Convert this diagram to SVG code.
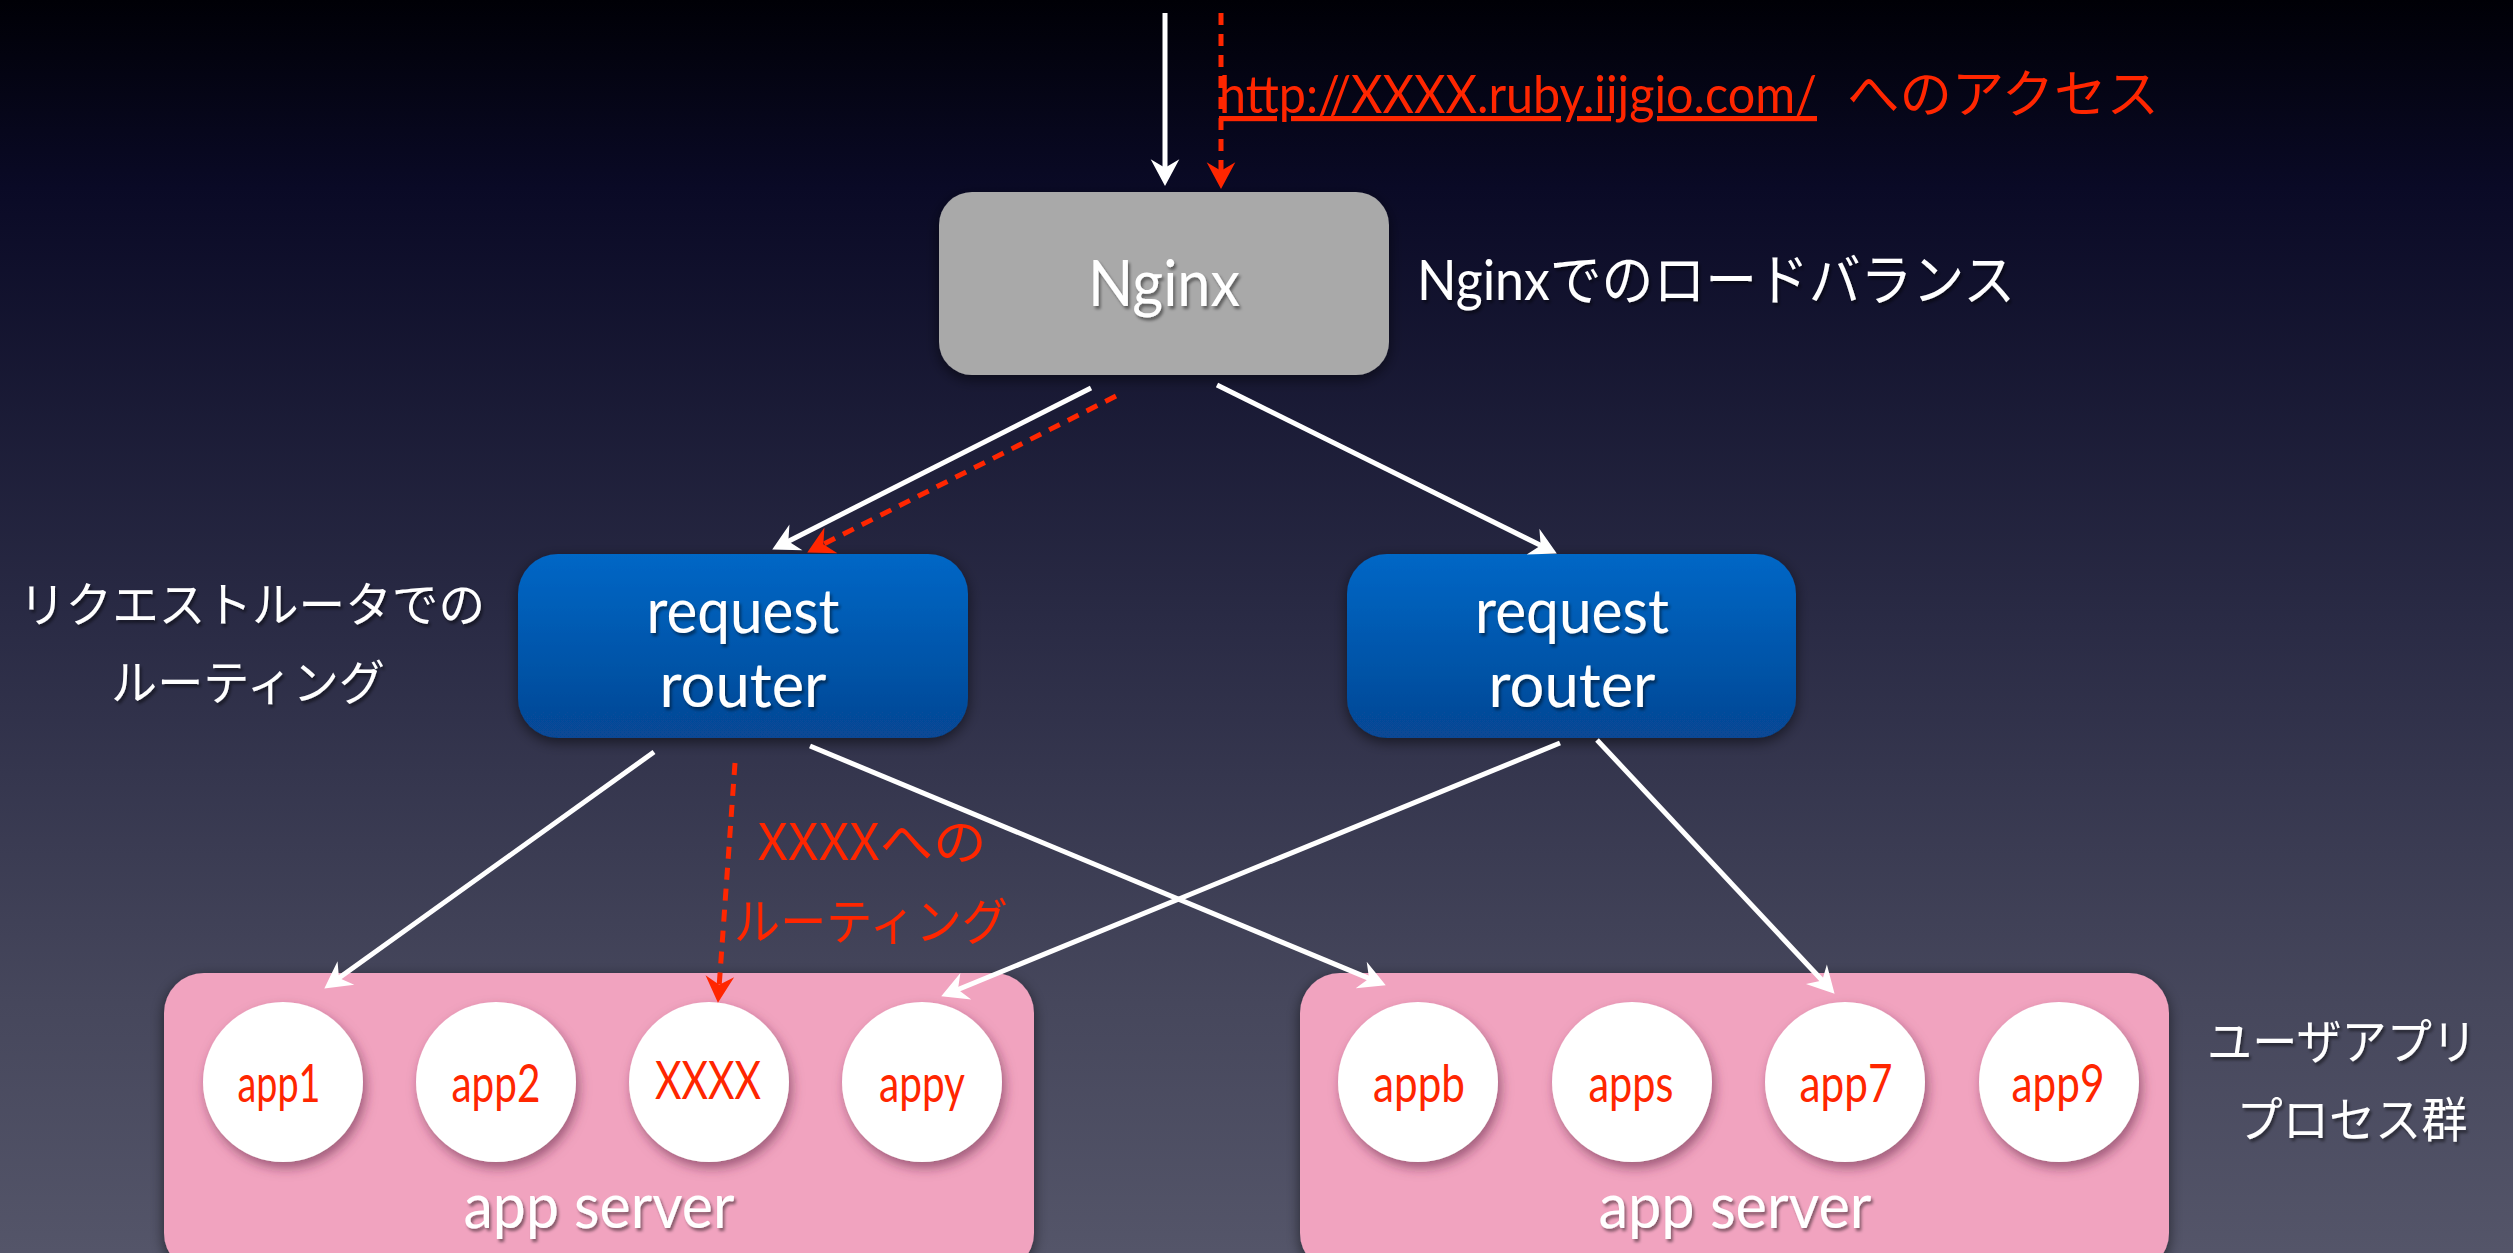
<svg xmlns="http://www.w3.org/2000/svg" width="2513" height="1253" viewBox="0 0 2513 1253">
  <defs>
    <linearGradient id="bg" x1="0" y1="0" x2="0" y2="1">
      <stop offset="0" stop-color="#000006"/>
      <stop offset="0.15" stop-color="#0a0a26"/>
      <stop offset="0.5" stop-color="#2a2b45"/>
      <stop offset="0.8" stop-color="#46475c"/>
      <stop offset="1" stop-color="#545569"/>
    </linearGradient>
    <linearGradient id="blue" x1="0" y1="0" x2="0" y2="1">
      <stop offset="0" stop-color="#0067c6"/>
      <stop offset="1" stop-color="#074794"/>
    </linearGradient>
    <filter id="boxShadow" x="-20%" y="-20%" width="140%" height="150%">
      <feDropShadow dx="0" dy="4" stdDeviation="7" flood-color="#000000" flood-opacity="0.55"/>
    </filter>
    <filter id="circleShadow" x="-30%" y="-30%" width="160%" height="160%">
      <feDropShadow dx="3" dy="6" stdDeviation="6" flood-color="#5a2040" flood-opacity="0.55"/>
    </filter>
    <filter id="textShadow" x="-10%" y="-20%" width="120%" height="150%">
      <feDropShadow dx="2" dy="3" stdDeviation="1.5" flood-color="#000000" flood-opacity="0.45"/>
    </filter>
    <marker id="arrowW" markerUnits="userSpaceOnUse" markerWidth="34" markerHeight="34" viewBox="-10 -16 30 32" refX="3" refY="0" orient="auto">
      <path d="M-8,-13.5 L17,0 L-8,13.5 L0,0 Z" fill="#ffffff"/>
    </marker>
    <marker id="arrowR" markerUnits="userSpaceOnUse" markerWidth="34" markerHeight="34" viewBox="-10 -16 30 32" refX="3" refY="0" orient="auto">
      <path d="M-8,-13.5 L17,0 L-8,13.5 L0,0 Z" fill="#ff2600"/>
    </marker>
  </defs>
  <style>
    .lat { font-family: Lato, "Noto Sans CJK JP", sans-serif; }
    .jp { font-family: "Noto Sans CJK JP", sans-serif; }
    .white { fill: #ffffff; }
    .red { fill: #ff2600; }
    .wline { stroke: #ffffff; stroke-width: 5; fill: none; marker-end: url(#arrowW); }
    .rline { stroke: #ff2600; stroke-width: 5; fill: none; stroke-dasharray: 12 9; marker-end: url(#arrowR); }
    .pink { fill: #f1a3bf; }
    .circ { fill: #ffffff; filter: url(#circleShadow); }
    .applabel { font-family: Lato, sans-serif; font-size: 52px; fill: #ff2600; text-anchor: middle; }
  </style>

  <rect x="0" y="0" width="2513" height="1253" fill="url(#bg)"/>

  <!-- Labels -->
  <g id="label-access">
    <text class="lat red" x="1219" y="113" font-size="52" textLength="598" lengthAdjust="spacingAndGlyphs" text-decoration="underline">http://XXXX.ruby.iijgio.com/</text>
    <text class="jp red" x="1847" y="113" font-size="52" textLength="312" lengthAdjust="spacingAndGlyphs">へのアクセス</text>
  </g>
  <g id="label-nginx-lb" filter="url(#textShadow)">
    <text class="lat white" x="1417" y="300" font-size="56" textLength="598" lengthAdjust="spacingAndGlyphs">Nginxでのロードバランス</text>
  </g>
  <g id="label-router" filter="url(#textShadow)">
    <text class="jp white" x="252" y="622" font-size="48" text-anchor="middle" textLength="466" lengthAdjust="spacingAndGlyphs">リクエストルータでの</text>
    <text class="jp white" x="248" y="700" font-size="48" text-anchor="middle" textLength="274" lengthAdjust="spacingAndGlyphs">ルーティング</text>
  </g>
  <g id="label-xxxx-routing">
    <text class="jp red" x="872" y="860" font-size="50" text-anchor="middle" textLength="229" lengthAdjust="spacingAndGlyphs">XXXXへの</text>
    <text class="jp red" x="871" y="940" font-size="50" text-anchor="middle" textLength="274" lengthAdjust="spacingAndGlyphs">ルーティング</text>
  </g>
  <g id="label-user-apps" filter="url(#textShadow)">
    <text class="jp white" x="2342" y="1059" font-size="48" text-anchor="middle" textLength="270" lengthAdjust="spacingAndGlyphs">ユーザアプリ</text>
    <text class="jp white" x="2352" y="1137" font-size="48" text-anchor="middle" textLength="231" lengthAdjust="spacingAndGlyphs">プロセス群</text>
  </g>

  <!-- Nodes -->
  <g id="nginx">
    <rect x="939" y="192" width="450" height="183" rx="33" fill="#a9a9a9" filter="url(#boxShadow)"/>
    <text class="lat white" x="1164" y="306" font-size="64" text-anchor="middle" textLength="152" lengthAdjust="spacingAndGlyphs" filter="url(#textShadow)">Nginx</text>
  </g>
  <g id="router-left">
    <rect x="518" y="554" width="450" height="184" rx="40" fill="url(#blue)" filter="url(#boxShadow)"/>
    <g filter="url(#textShadow)">
      <text class="lat white" x="743" y="633" font-size="62" text-anchor="middle" textLength="193" lengthAdjust="spacingAndGlyphs">request</text>
      <text class="lat white" x="743" y="707" font-size="62" text-anchor="middle" textLength="167" lengthAdjust="spacingAndGlyphs">router</text>
    </g>
  </g>
  <g id="router-right">
    <rect x="1347" y="554" width="449" height="184" rx="40" fill="url(#blue)" filter="url(#boxShadow)"/>
    <g filter="url(#textShadow)">
      <text class="lat white" x="1572" y="633" font-size="62" text-anchor="middle" textLength="194" lengthAdjust="spacingAndGlyphs">request</text>
      <text class="lat white" x="1572" y="707" font-size="62" text-anchor="middle" textLength="167" lengthAdjust="spacingAndGlyphs">router</text>
    </g>
  </g>
  <g id="appserver-left">
    <rect class="pink" x="164" y="973" width="870" height="300" rx="40" filter="url(#boxShadow)"/>
    <text class="lat white" x="599" y="1228" font-size="62" text-anchor="middle" textLength="271" lengthAdjust="spacingAndGlyphs" filter="url(#textShadow)">app server</text>
  </g>
  <g id="appserver-right">
    <rect class="pink" x="1300" y="973" width="869" height="300" rx="40" filter="url(#boxShadow)"/>
    <text class="lat white" x="1735" y="1228" font-size="62" text-anchor="middle" textLength="273" lengthAdjust="spacingAndGlyphs" filter="url(#textShadow)">app server</text>
  </g>
  <g id="app1"><circle class="circ" cx="283" cy="1082" r="80"/><text class="applabel" x="279" y="1102" textLength="83" lengthAdjust="spacingAndGlyphs">app1</text></g>
  <g id="app2"><circle class="circ" cx="496" cy="1082" r="80"/><text class="applabel" x="496" y="1102" textLength="89" lengthAdjust="spacingAndGlyphs">app2</text></g>
  <g id="xxxx"><circle class="circ" cx="709" cy="1082" r="80"/><text class="applabel" x="708" y="1099" textLength="106" lengthAdjust="spacingAndGlyphs">XXXX</text></g>
  <g id="appy"><circle class="circ" cx="922" cy="1082" r="80"/><text class="applabel" x="922" y="1102" textLength="86" lengthAdjust="spacingAndGlyphs">appy</text></g>
  <g id="appb"><circle class="circ" cx="1418" cy="1082" r="80"/><text class="applabel" x="1419" y="1102" textLength="92" lengthAdjust="spacingAndGlyphs">appb</text></g>
  <g id="apps"><circle class="circ" cx="1632" cy="1082" r="80"/><text class="applabel" x="1631" y="1102" textLength="85" lengthAdjust="spacingAndGlyphs">apps</text></g>
  <g id="app7"><circle class="circ" cx="1845" cy="1082" r="80"/><text class="applabel" x="1846" y="1102" textLength="93" lengthAdjust="spacingAndGlyphs">app7</text></g>
  <g id="app9"><circle class="circ" cx="2059" cy="1082" r="80"/><text class="applabel" x="2058" y="1102" textLength="93" lengthAdjust="spacingAndGlyphs">app9</text></g>

  <!-- Connectors -->
  <g id="connectors">
    <line class="wline" x1="1165" y1="13" x2="1165" y2="171"/>
    <line class="rline" x1="1221" y1="13" x2="1221" y2="174"/>
    <line class="wline" x1="1091" y1="388" x2="785.5" y2="542.7"/>
    <line class="rline" x1="1116" y1="396" x2="820.5" y2="545.7"/>
    <line class="wline" x1="1217" y1="385" x2="1543.5" y2="546.8"/>
    <line class="wline" x1="654" y1="752" x2="336.4" y2="979.8"/>
    <line class="rline" x1="735" y1="763" x2="719" y2="988"/>
    <line class="wline" x1="810" y1="746" x2="1372" y2="979.6"/>
    <line class="wline" x1="1560" y1="743" x2="955" y2="990.7"/>
    <line class="wline" x1="1597" y1="740" x2="1824.4" y2="982.8"/>
  </g>
</svg>
